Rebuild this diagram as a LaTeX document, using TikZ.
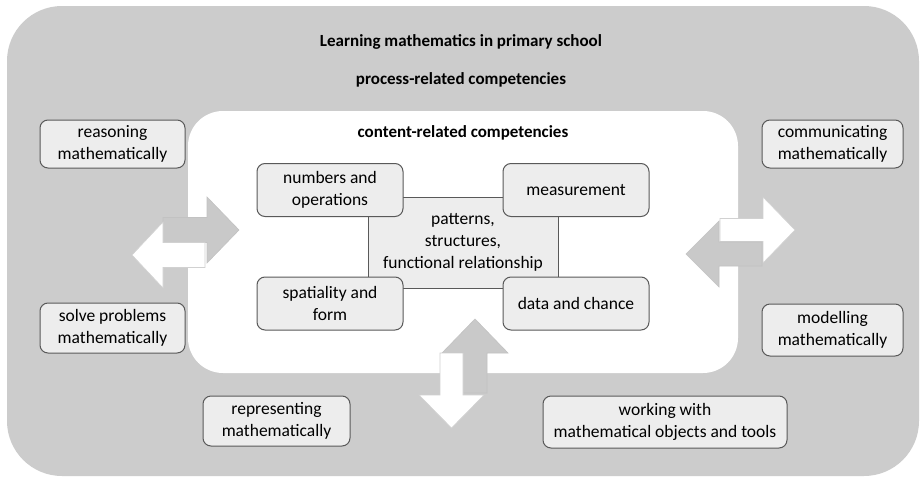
\documentclass[tikz,border=0pt]{standalone}
\usepackage{fontspec}
\setmainfont{Carlito}
\begin{document}
\begin{tikzpicture}[x=1pt,y=-1pt,
  bgfill/.style={fill=black!20},
  compbox/.style={draw=black!65,line width=1pt,fill=black!7,rounded corners=8pt,
    align=center,inner sep=0pt,font=\fontsize{17.5}{22}\selectfont},
  heading/.style={font=\bfseries\fontsize{17}{20}\selectfont},
  grayarrow/.style={fill=black!21,draw=black!24,line width=0.6pt},
  whitearrow/.style={fill=white,draw=black!18,line width=0.6pt}]
\useasboundingbox[fill=white] (0,0) rectangle (922,477);
% outer field: process-related competencies
\fill[bgfill,rounded corners=55pt] (7,6) rectangle (919,476);
% inner field: content-related competencies
\fill[white,rounded corners=35pt] (188,111) rectangle (738,373);

% exchange arrows, left
\draw[grayarrow] (163,217.5) -- (207,217.5) -- (207,197) -- (239,230) -- (207,263) -- (207,242.5) -- (163,242.5) -- cycle;
\draw[whitearrow] (205,242.5) -- (163,242.5) -- (163,222) -- (132,255) -- (163,288) -- (163,267.5) -- (205,267.5) -- cycle;
% exchange arrows, right
\draw[whitearrow] (720,218.5) -- (763,218.5) -- (763,197) -- (795,230) -- (763,263) -- (763,241.5) -- (720,241.5) -- cycle;
\draw[grayarrow] (762,242) -- (719,242) -- (719,221) -- (686,254) -- (719,287) -- (719,266) -- (762,266) -- cycle;
% exchange arrows, bottom
\draw[grayarrow] (463,393) -- (463,353) -- (442,353) -- (475,319) -- (508,353) -- (487,353) -- (487,393) -- cycle;
\draw[whitearrow] (440,353) -- (440,395) -- (419,395) -- (451.5,428) -- (484,395) -- (463,395) -- (463,353) -- cycle;

% headings
\node[heading] (title) at (461,42) {Learning mathematics in primary school};
\node[heading] (process) at (461,80) {process-related competencies};
\node[heading] (content) at (463,133) {content-related competencies};

% content-related competencies
\node[draw=black!65,line width=0.8pt,fill=black!7,minimum width=190pt,minimum height=91pt,
  align=center,inner sep=0pt,font=\fontsize{17.5}{22}\selectfont] (patterns) at (463,242.5)
  {patterns,\\structures,\\functional relationship};
\node[compbox,minimum width=146pt,minimum height=53pt] (numbers) at (330,190) {numbers and\\operations};
\node[compbox,minimum width=146pt,minimum height=53pt] (measure) at (576,190) {measurement};
\node[compbox,minimum width=146pt,minimum height=53pt] (spatial) at (330,303.5) {spatiality and\\form};
\node[compbox,minimum width=146pt,minimum height=53pt] (data) at (576,303.5) {data and chance};

% process-related competencies
\node[compbox,minimum width=145pt,minimum height=48pt] (reason) at (112.5,144) {reasoning\\mathematically};
\node[compbox,minimum width=141pt,minimum height=48pt] (commun) at (832.5,144) {communicating\\mathematically};
\node[compbox,minimum width=145pt,minimum height=50pt] (solve) at (112.5,328) {solve problems\\mathematically};
\node[compbox,minimum width=141pt,minimum height=52pt] (model) at (832.5,330) {modelling\\mathematically};
\node[compbox,minimum width=147pt,minimum height=50pt] (repr) at (276.5,421) {representing\\mathematically};
\node[compbox,minimum width=244pt,minimum height=52pt] (tools) at (665,422) {working with\\mathematical objects and tools};
\end{tikzpicture}
\end{document}
